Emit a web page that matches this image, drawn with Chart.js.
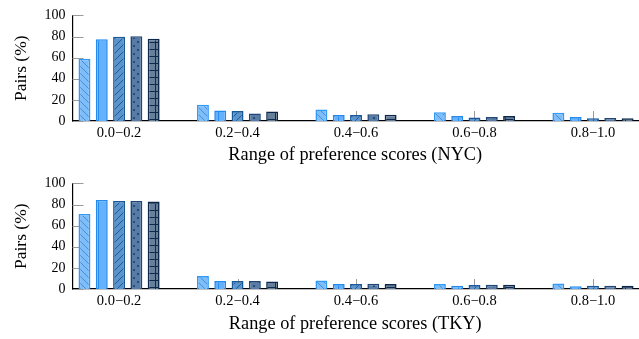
<!DOCTYPE html>
<html lang="en">
<head>
<meta charset="UTF-8">
<title>Preference score ranges</title>
<script src="https://cdn.jsdelivr.net/npm/chart.js@4.4.1/dist/chart.umd.min.js"></script>
<style>
  body { margin: 0; background: #fff; }
  #wrap { position: relative; width: 639px; height: 339px; overflow: hidden; }
  canvas { position: absolute; left: 0; }
</style>
</head>
<body>
<div id="wrap">
  <canvas id="nyc" width="639" height="170" style="top:0"></canvas>
  <canvas id="tky" width="639" height="171" style="top:168px"></canvas>
</div>

<script>
  // score ranges on the x axis
  var ranges = ['0.0\u22120.2', '0.2\u22120.4', '0.4\u22120.6', '0.6\u22120.8', '0.8\u22121.0'];
  var yTicks = [0, 20, 40, 60, 80, 100];

  // NYC, one array per method (percent of pairs)
  var nycA = [59, 15.5, 11, 8.4, 7.8];
  var nycB = [77.5, 10, 5.6, 4.7, 3.7];
  var nycC = [79.7, 9.4, 5.6, 3.4, 2.5];
  var nycD = [80.3, 7.2, 6.5, 3.7, 2.8];
  var nycE = [78, 9, 5.9, 4.7, 2.5];

  // TKY
  var tkyA = [71, 12.2, 8.1, 4.7, 5.3];
  var tkyB = [84.3, 7.5, 4.7, 3.1, 2.5];
  var tkyC = [83.4, 7.5, 4.7, 3.7, 3.1];
  var tkyD = [83.4, 7.5, 5, 4, 3.1];
  var tkyE = [82.8, 7.1, 4.7, 4, 3.1];

  var serif = '"Liberation Serif", "DejaVu Serif", serif';

  function tile(w, h, bg, fg, draw) {
    var c = document.createElement('canvas');
    c.width = w; c.height = h;
    var g = c.getContext('2d');
    g.fillStyle = bg;
    g.fillRect(0, 0, w, h);
    g.strokeStyle = fg;
    g.fillStyle = fg;
    g.lineWidth = 1;
    draw(g, w, h);
    return g.createPattern(c, 'repeat');
  }

  function backslash(g, s) {
    g.beginPath();
    for (var k = -s; k <= s; k += s) { g.moveTo(k, 0); g.lineTo(k + s, s); }
    g.stroke();
  }
  function slash(g, s) {
    g.beginPath();
    for (var k = -s; k <= s; k += s) { g.moveTo(k, s); g.lineTo(k + s, 0); }
    g.stroke();
  }

  var styles = [
    { fill: function () { return tile(7, 7, '#80bdf6', '#3a92ea', backslash); }, border: '#3399f7' },
    { fill: function () { return tile(10, 10, '#66b1fb', '#2a8bf0', function (g) { g.fillRect(8, 0, 1, 10); }); }, border: '#238af0' },
    { fill: function () { return tile(7, 7, '#5b93cb', '#1d5ba0', slash); }, border: '#1a589c' },
    { fill: function () { return tile(8, 8, '#587ca5', '#1b4373', function (g) {
        g.beginPath(); g.arc(2, 2, 1.1, 0, 7); g.arc(6, 6, 1.1, 0, 7); g.fill();
      }); }, border: '#1f4676' },
    { fill: function () { return tile(10, 7, '#687f9a', '#0e2a4f', function (g) {
        g.fillRect(0, 0, 10, 1); g.fillRect(5, 0, 1, 7);
      }); }, border: '#0c284c' }
  ];

  // short grey ticks pointing into the plot, drawn under the bars
  var innerTicks = {
    id: 'innerTicks',
    beforeDatasetsDraw: function (chart) {
      var ctx = chart.ctx, x = chart.scales.x, y = chart.scales.y;
      var area = chart.chartArea;
      ctx.save();
      ctx.strokeStyle = '#9a9a9a';
      ctx.lineWidth = 1;
      ctx.beginPath();
      yTicks.forEach(function (t) {
        var py = Math.round(y.getPixelForValue(t)) + 0.5;
        ctx.moveTo(area.left, py);
        ctx.lineTo(area.left + 11, py);
      });
      ranges.forEach(function (r, i) {
        var px = Math.round(x.getPixelForValue(i)) + 0.5;
        ctx.moveTo(px, area.bottom);
        ctx.lineTo(px, area.bottom - 10);
      });
      ctx.stroke();
      ctx.restore();
    }
  };

  function makeChart(id, series, city) {
    var cv = document.getElementById(id);
    var axisH = cv.height - 121;
    var datasets = series.map(function (vals, s) {
      return {
        label: 'm' + s,
        data: vals.map(function (v, i) { return { x: i, y: v }; }),
        backgroundColor: styles[s].fill(),
        borderColor: styles[s].border,
        borderWidth: 1.6
      };
    });
    return new Chart(cv, {
      type: 'bar',
      data: { datasets: datasets },
      plugins: [innerTicks],
      options: {
        responsive: false,
        animation: false,
        categoryPercentage: 0.73,
        barPercentage: 0.69,
        layout: { padding: { top: 14.3, right: 1, left: 0, bottom: 0 } },
        plugins: { legend: { display: false }, tooltip: { enabled: false } },
        scales: {
          x: {
            type: 'linear',
            offset: false,
            min: -0.393,
            max: 4.38,
            afterBuildTicks: function (s) { s.ticks = ranges.map(function (r, i) { return { value: i }; }); },
            afterFit: function (s) { s.height = axisH; },
            grid: { display: false, drawTicks: false },
            border: { display: true, color: '#000', width: 1.2 },
            ticks: {
              padding: 3,
              color: '#000',
              font: { family: serif, size: 14.5 },
              maxRotation: 0,
              callback: function (v) { return ranges[v]; }
            },
            title: {
              display: true,
              text: 'Range of preference scores (' + city + ')',
              color: '#000',
              font: { family: serif, size: 18.3 },
              padding: { top: 0, bottom: 4 }
            }
          },
          y: {
            min: 0,
            max: 100,
            afterBuildTicks: function (s) { s.ticks = yTicks.map(function (v) { return { value: v }; }); },
            afterFit: function (s) { s.width = 72.5; },
            grid: { display: false, drawTicks: false },
            border: { display: true, color: '#000', width: 1.2 },
            ticks: { padding: 7, color: '#000', font: { family: serif, size: 14 } },
            title: {
              display: true,
              text: 'Pairs (%)',
              color: '#000',
              font: { family: serif, size: 17.5 },
              padding: { top: 11, bottom: 0 }
            }
          }
        }
      }
    });
  }

  makeChart('nyc', [nycA, nycB, nycC, nycD, nycE], 'NYC');
  makeChart('tky', [tkyA, tkyB, tkyC, tkyD, tkyE], 'TKY');
</script>
</body>
</html>
